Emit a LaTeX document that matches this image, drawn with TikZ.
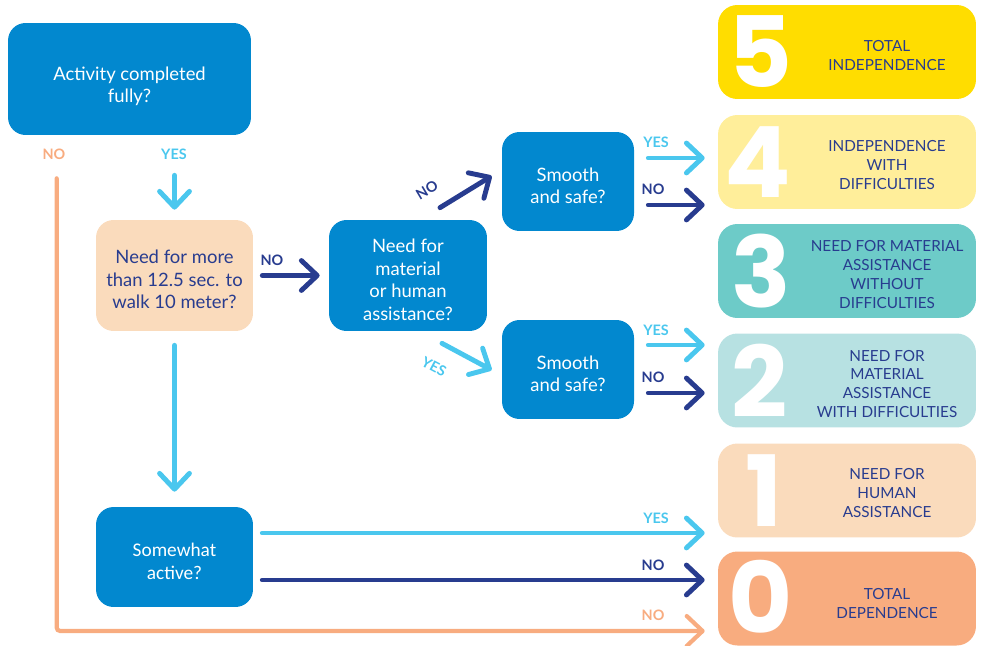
\documentclass[tikz,border=0pt]{standalone}
\usepackage{fontspec}
\setmainfont{Lato}
\newfontfamily\digitfont{Poppins}
\newfontfamily\narrowfont{Carlito}
\usepackage{tikz}
\usetikzlibrary{arrows.meta}
\usetikzlibrary{calc}

\definecolor{qblue}{RGB}{2,136,207}
\definecolor{lblue}{RGB}{74,199,238}
\definecolor{navy}{RGB}{40,60,143}
\definecolor{offline}{RGB}{248,172,128}
\definecolor{peach}{RGB}{250,219,188}
\definecolor{c5}{RGB}{255,221,0}
\definecolor{c4}{RGB}{255,238,154}
\definecolor{c3}{RGB}{109,203,200}
\definecolor{c2}{RGB}{183,225,226}
\definecolor{c1}{RGB}{250,219,188}
\definecolor{c0}{RGB}{248,172,127}

\newcommand{\lift}[1]{\rule{0pt}{#1}}

\begin{document}
\begin{tikzpicture}[x=0.02cm, y=-0.02cm,
    question/.style={rounded corners=10pt, fill=qblue, text=white, align=center, inner sep=2pt, font=\fontsize{10.5}{12.8}\selectfont},
    peachq/.style={question, fill=peach, text=navy},
    score/.style={rounded corners=11pt, minimum width=5.16cm, minimum height=1.88cm},
    digit/.style={text=white, inner sep=0pt, font=\digitfont\bfseries\fontsize{56}{56}\selectfont},
    grade/.style={text=navy, align=center, inner sep=0pt, font=\fontsize{8.7}{10.8}\selectfont},
    lab/.style={inner sep=0pt, font=\bfseries\fontsize{8.2}{9}\selectfont},
    yesarr/.style={draw=lblue, line width=2.8pt, line cap=round, -{Straight Barb[length=9pt,width=17pt,round]}},
    noarr/.style={yesarr, draw=navy},
    offarr/.style={yesarr, draw=offline, line width=2.4pt},
    short/.style={shorten >=0.26cm},
    ]
  \useasboundingbox (0,0) rectangle (982,645);

  \node[question, minimum width=4.86cm, minimum height=2.24cm] (act) at (129.5,79) {\lift{16pt}Activity completed\\fully?};
  \node[peachq, minimum width=3.14cm, minimum height=2.22cm] (walk) at (174.5,275.5) {\lift{12.5pt}Need for more\\than 12.5 sec. to\\walk 10 meter?};
  \node[question, minimum width=3.16cm, minimum height=2.22cm] (assist) at (408,275.5) {\lift{12.5pt}Need for\\material\\or human\\assistance?};
  \node[question, minimum width=2.64cm, minimum height=1.98cm] (smoothA) at (568,181.5) {\lift{12.5pt}Smooth\\and safe?};
  \node[question, minimum width=2.64cm, minimum height=1.98cm] (smoothB) at (568,369.5) {\lift{12.5pt}Smooth\\and safe?};
  \node[question, minimum width=3.14cm, minimum height=2cm, font=\narrowfont\fontsize{11}{13.2}\selectfont] (active) at (174.5,557) {\lift{12.5pt}Somewhat\\active?};

  \node[score, fill=c5] (s5) at (847,52) {};
  \node[score, fill=c4] (s4) at (847,162) {};
  \node[score, fill=c3] (s3) at (847,271) {};
  \node[score, fill=c2] (s2) at (847,380.5) {};
  \node[score, fill=c1] (s1) at (847,490.5) {};
  \node[score, fill=c0] (s0) at (847,598.5) {};

  \node[digit] (d5) at (760,52) {5};
  \node[digit] (d4) at (758,162) {4};
  \node[digit] (d3) at (761,271) {3};
  \node[digit] (d2) at (760,380.5) {2};
  \node[digit] (d1) at (764,490.5) {1};
  \node[digit] (d0) at (761,597) {0};

  \node[grade] (g5) at (887,55.5) {TOTAL\\INDEPENDENCE};
  \node[grade] (g4) at (887,165) {INDEPENDENCE\\WITH\\DIFFICULTIES};
  \node[grade] (g3) at (887,274.5) {NEED FOR MATERIAL\\ASSISTANCE\\WITHOUT\\DIFFICULTIES};
  \node[grade] (g2) at (887,384) {NEED FOR\\MATERIAL\\ASSISTANCE\\WITH DIFFICULTIES};
  \node[grade] (g1) at (887,493) {NEED FOR\\HUMAN\\ASSISTANCE};
  \node[grade] (g0) at (887,603.5) {TOTAL\\DEPENDENCE};

  \node[lab, text=offline] (actNo) at (54,154) {NO};
  \node[lab, text=lblue] (actYes) at (174,154) {YES};
  \node[lab, text=navy] (walkNo) at (272,260) {NO};
  \node[lab, text=navy, rotate=31] (assistNo) at (427,190) {NO};
  \node[lab, text=lblue, rotate=-28] (assistYes) at (434,367) {YES};
  \node[lab, text=lblue] (aYes) at (656,142) {YES};
  \node[lab, text=navy] (aNo) at (653,189) {NO};
  \node[lab, text=lblue] (bYes) at (656,330) {YES};
  \node[lab, text=navy] (bNo) at (653,377) {NO};
  \node[lab, text=lblue] (fYes) at (656,518) {YES};
  \node[lab, text=navy] (fNo) at (653,565) {NO};
  \node[lab, text=offline] (offNo) at (653,615) {NO};

  \draw[yesarr, shorten >=0.2cm] ($(walk.north |- act.south)+(0,40)$) -- (walk.north);
  \draw[offarr, short, rounded corners=2pt] ($(act.south west)+(49,43)$) |- ($(s0.west)+(0,32.5)$);
  \draw[noarr, shorten <=0.18cm, shorten >=0.18cm] (walk) -- (assist);
  \draw[yesarr, shorten <=0.28cm, shorten >=0.3cm] (walk) -- (active);

  \draw[noarr] ($(assist.north)+(32,-12)$) -- ($(smoothA.west)+(-10,-5.5)$);
  \draw[yesarr] ($(assist.south)+(34,12)$) -- ($(smoothB.west)+(-10,0.5)$);

  \draw[yesarr, short] ($(smoothA.east)+(14,-23.5)$) coordinate (ay) -- (ay -| s4.west);
  \draw[noarr, short] ($(smoothA.east)+(14,23.5)$) coordinate (an) -- (an -| s4.west);
  \draw[yesarr, short] ($(smoothB.east)+(14,-24.5)$) coordinate (by) -- (by -| s2.west);
  \draw[noarr, short] ($(smoothB.east)+(14,23.5)$) coordinate (bn) -- (bn -| s2.west);
  \draw[yesarr, short] ($(active.east)+(9,-24)$) coordinate (fy) -- (fy -| s1.west);
  \draw[noarr, short] ($(active.east)+(9,23)$) coordinate (fn) -- (fn -| s0.west);
\end{tikzpicture}
\end{document}
